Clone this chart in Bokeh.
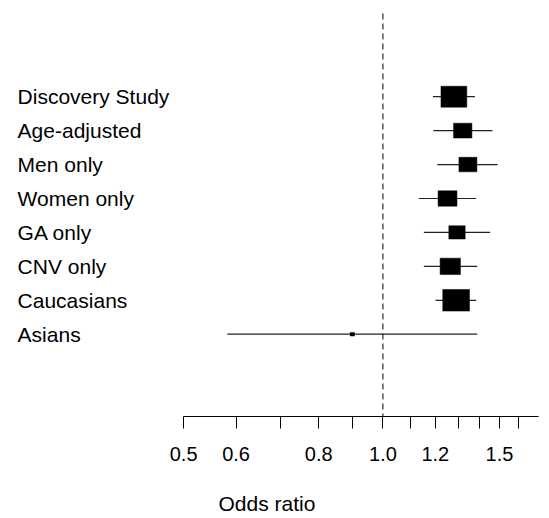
import numpy as np
from bokeh.plotting import figure
from bokeh.models import (Range1d, FixedTicker, PrintfTickFormatter, ColumnDataSource,
                          LogAxis)
from bokeh.core.properties import value
from bokeh.embed import file_html
from bokeh.resources import INLINE

# ---- data ----
labels = ["Discovery Study", "Age-adjusted", "Men only", "Women only",
          "GA only", "CNV only", "Caucasians", "Asians"]
odds_ratio = [1.280, 1.320, 1.344, 1.252, 1.294, 1.264, 1.290, 0.899]
ci_lower = [1.190, 1.192, 1.208, 1.133, 1.153, 1.153, 1.201, 0.582]
ci_upper = [1.377, 1.464, 1.490, 1.383, 1.452, 1.388, 1.383, 1.388]
major_ticks = [0.5, 0.6, 0.8, 1.0, 1.2, 1.5]
minor_ticks = [0.7, 0.9, 1.1, 1.3, 1.4, 1.6]
axis_title = "Odds ratio"

FONT = "Liberation Sans"
rows = list(range(len(labels)))

# box size ~ precision (1 / CI width on log scale), as in meta-analysis forest plots
logw = np.log(np.array(ci_upper)) - np.log(np.array(ci_lower))
box_w = 3.77 / logw
box_h = 3.05 / logw

src = ColumnDataSource(dict(y=rows, label=labels, orr=odds_ratio, lo=ci_lower,
                            hi=ci_upper, bw=box_w, bh=box_h))

p = figure(width=545, height=518, x_axis_type="log",
           x_range=Range1d(0.2644, 1.7604), y_range=Range1d(9.425, -2.835),
           y_axis_location=None, toolbar_location=None, output_backend="svg",
           min_border_left=0, min_border_right=0, min_border_top=0,
           min_border_bottom=102)
p.outline_line_color = None
p.xgrid.visible = False
p.ygrid.visible = False
p.background_fill_color = "white"
p.border_fill_color = "white"

# reference line at OR = 1
p.segment(x0=[1.0], y0=[-2.452], x1=[1.0], y1=[9.425], line_color="black",
          line_width=1, line_dash="6 4")

# confidence intervals and boxes
p.segment(x0="lo", y0="y", x1="hi", y1="y", source=src, line_color="#222222",
          line_width=1.2)
p.rect(x="orr", y="y", width="bw", height="bh", width_units="screen",
       height_units="screen", source=src, fill_color="black", line_color="black",
       line_width=0.5)

# row labels
p.text(x=0.2806, y="y", text="label", source=src, text_font=value(FONT),
       text_font_size="21px", text_baseline="middle", text_align="left",
       text_color="black")

ax = p.xaxis[0]
ax.ticker = FixedTicker(ticks=major_ticks, minor_ticks=minor_ticks)
ax.formatter = PrintfTickFormatter(format="%.1f")
ax.bounds = (0.5, 1.72)
ax.axis_line_color = "black"
ax.axis_line_width = 1
ax.major_tick_line_color = "black"
ax.minor_tick_line_color = "black"
ax.major_tick_out = 12
ax.major_tick_in = 0
ax.minor_tick_out = 12
ax.minor_tick_in = 0
ax.major_label_text_font = FONT
ax.major_label_text_font_size = "20px"
ax.major_label_text_color = "black"
ax.major_label_standoff = 18

# axis title, placed off-centre like the reference (as a label-only axis)
title_axis = LogAxis(ticker=FixedTicker(ticks=[0.668]),
                     formatter=PrintfTickFormatter(format=axis_title),
                     axis_line_color=None, major_tick_line_color=None,
                     minor_tick_line_color=None, major_tick_out=0, major_tick_in=0,
                     minor_tick_out=0, minor_tick_in=0,
                     major_label_text_font=FONT, major_label_text_font_size="21px",
                     major_label_text_color="black", major_label_standoff=28)
p.add_layout(title_axis, "below")

open("out.html", "w").write(file_html(p, INLINE))
